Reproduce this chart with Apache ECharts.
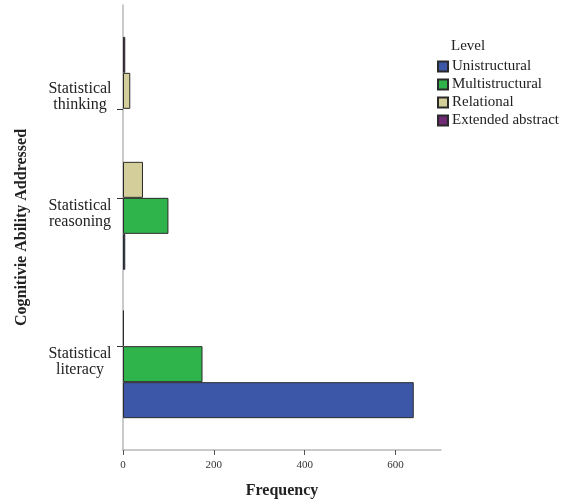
<!DOCTYPE html>
<html>
<head>
<meta charset="utf-8">
<script src="https://cdn.jsdelivr.net/npm/echarts@6/dist/echarts.min.js"></script>
<style>html,body{margin:0;padding:0;background:#fff}#c{width:564px;height:499px}</style>
</head>
<body>
<div id="c"></div>
<script>
const categories = ['Statistical\nthinking', 'Statistical\nreasoning', 'Statistical\nliteracy'];
const levels = ['Unistructural', 'Multistructural', 'Relational', 'Extended abstract'];
const unistructural = [0, 5, 640];
const multistructural = [0, 100, 175];
const relational = [16, 44, 2];
const extendedAbstract = [5, 0, 0];
const xTicks = [0, 200, 400, 600];

const levelValues = [unistructural, multistructural, relational, extendedAbstract];
const colors = ['#3d57a8', '#2eb44a', '#d4ce9b', '#6e2a72'];

// layout: slot positions of categories on a padded band axis
const slotIdx = [3, 6, 11];
const nSlots = 15;
const labelVAlign = ['bottom', 'top', 'top'];
const yData = [];
for (let i = 0; i < nSlots; i++) yData.push({ value: '' + ' '.repeat(i) });
slotIdx.forEach((s, k) => {
  yData[s] = { value: categories[k], textStyle: { align: 'center', verticalAlign: labelVAlign[k] } };
});
const isReal = (i) => slotIdx.indexOf(i) >= 0;

const series = levels.map((name, li) => {
  const d = new Array(nSlots).fill('-');
  slotIdx.forEach((s, k) => { const v = levelValues[li][k]; d[s] = v === 0 ? '-' : v; });
  return {
    name, type: 'bar', data: d, barWidth: 36, barGap: '0%',
    itemStyle: { color: colors[li], borderColor: '#2a2a2a', borderWidth: 1 },
    emphasis: { disabled: true }
  };
}).reverse();

const serif = 'Liberation Serif';
const chart = echarts.init(document.getElementById('c'), null, { renderer: 'canvas' });
chart.setOption({
  animation: false,
  backgroundColor: '#fff',
  title: {
    text: 'Level', left: 451, top: 39, padding: 0,
    textStyle: { fontFamily: serif, fontSize: 15, fontWeight: 'normal', color: '#222' }
  },
  legend: {
    data: levels, orient: 'vertical', left: 437, top: 59, padding: 0,
    itemWidth: 10, itemHeight: 10, itemGap: 3, icon: 'rect',
    textStyle: { fontFamily: serif, fontSize: 15, lineHeight: 15, color: '#222', padding: [0, 0, 0, -1] }
  },
  grid: { left: 123, right: 123, top: 5, bottom: 49, containLabel: false, outerBoundsMode: 'none' },
  xAxis: {
    type: 'value', min: 0, max: 700, interval: 100,
    name: 'Frequency', nameLocation: 'middle', nameGap: 33,
    nameTextStyle: { fontFamily: serif, fontSize: 16, fontWeight: 'bold', color: '#222' },
    axisLine: { show: true, lineStyle: { color: '#b8b8b8', width: 1.5 } },
    axisTick: { show: true, length: 5, customValues: xTicks, lineStyle: { color: '#555' } },
    axisLabel: { customValues: xTicks, margin: 10, fontFamily: serif, fontSize: 11, color: '#333' },
    splitLine: { show: false }
  },
  yAxis: {
    type: 'category', inverse: true, data: yData,
    name: 'Cognitivie Ability Addressed', nameLocation: 'middle', nameGap: 93,
    nameTextStyle: { fontFamily: serif, fontSize: 16, fontWeight: 'bold', color: '#222' },
    axisLine: { show: true, lineStyle: { color: '#b8b8b8', width: 1.5 } },
    axisTick: { show: true, alignWithLabel: true, length: 6, interval: (i) => isReal(i), lineStyle: { color: '#333' } },
    axisLabel: {
      interval: (i) => isReal(i), align: 'center', margin: 43,
      fontFamily: serif, fontSize: 16, lineHeight: 16, color: '#222',
      formatter: (v, i) => {
        if (i === slotIdx[0]) {
          const parts = v.split('\n');
          return '{a|' + parts[0] + '}\n{b|' + parts[1] + '}';
        }
        return v;
      },
      rich: {
        a: { fontFamily: serif, fontSize: 16, lineHeight: 24, color: '#222' },
        b: { fontFamily: serif, fontSize: 16, lineHeight: 8, color: '#222' }
      }
    }
  },
  series
});
</script>
</body>
</html>
